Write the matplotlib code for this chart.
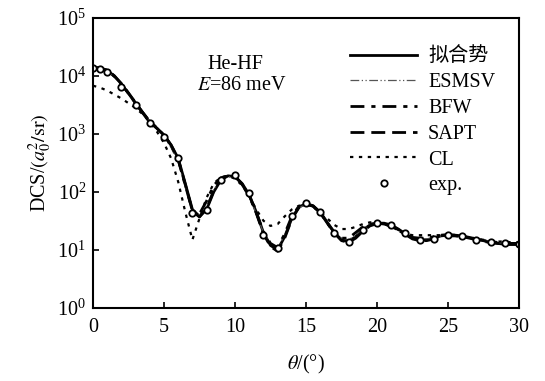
import matplotlib
matplotlib.use("Agg")
import matplotlib.pyplot as plt
import numpy as np

plt.rcParams['font.family'] = ['Liberation Serif', 'Noto Sans CJK SC', 'DejaVu Sans']
plt.rcParams['mathtext.fontset'] = 'stix'

# ---------------- data ----------------
theta = [0, 0.5, 1, 1.5, 2, 2.5, 3, 3.5, 4, 4.5, 5, 5.5, 6, 6.5, 7, 7.5, 8, 8.5, 9, 9.5,
         10, 10.5, 11, 11.5, 12, 12.5, 13, 13.5, 14, 14.5, 15, 15.5, 16, 16.5, 17, 17.5,
         18, 18.5, 19, 19.5, 20, 20.5, 21, 21.5, 22, 22.5, 23, 23.5, 24, 24.5, 25, 25.5,
         26, 26.5, 27, 27.5, 28, 28.5, 29, 29.5, 30]

fit = [14000, 13700, 12500, 10000, 7300, 5000, 3400, 2300, 1600, 1250, 950, 650, 380, 140,
       50, 38, 50, 100, 160, 190, 185, 140, 90, 45, 20, 12, 10, 17, 35, 55, 63, 58, 45, 30,
       20, 15, 14, 17, 22, 27, 29, 29, 27, 23, 19, 16, 15, 15, 16, 17.5, 18, 18, 17.5, 16.5,
       15.5, 14.5, 13.5, 13, 12.5, 12.5, 12.5]

esmsv = [13500, 13200, 12000, 9600, 7000, 4900, 3300, 2300, 1650, 1250, 900, 580, 320, 120,
         48, 40, 58, 110, 165, 185, 175, 135, 85, 42, 20, 13, 11, 18, 36, 54, 60, 56, 44, 30,
         21, 16, 15, 18, 23, 27, 28, 28, 26, 22, 18.5, 16, 15.5, 15.5, 16.5, 17.5, 18, 17.5, 17,
         16, 15, 14.5, 14, 13.5, 13, 13, 13]

bfw = [13800, 13400, 12300, 9900, 7200, 5000, 3400, 2350, 1650, 1280, 960, 640, 360, 130,
       48, 42, 70, 130, 175, 190, 180, 135, 85, 44, 21, 13, 11, 19, 38, 57, 62, 57, 44, 29,
       20, 16, 16, 20, 25, 28, 29, 28, 26, 22, 18.5, 16.5, 16, 16, 17, 18, 18.5, 18, 17.5, 16.5,
       15.5, 14.5, 14, 13.5, 13, 13, 13]

sapt = [14200, 13800, 12600, 10100, 7400, 5100, 3450, 2350, 1620, 1260, 950, 640, 370, 135,
        47, 37, 52, 105, 165, 192, 185, 138, 88, 43, 19, 11.5, 9.5, 16, 34, 54, 62, 57, 44,
        29, 19.5, 14.5, 13.5, 16, 21, 26, 28.5, 28.5, 26.5, 22.5, 18.5, 15.5, 14.5, 14.5,
        15.5, 17, 17.5, 17.5, 17, 16, 15, 14, 13.5, 13, 12.5, 12.5, 12.5]

cl = [6800, 6300, 5600, 4800, 4100, 3400, 2800, 2200, 1600, 1100, 700, 380, 150, 45, 15, 35,
      80, 140, 180, 190, 170, 130, 85, 50, 32, 26, 28, 38, 50, 58, 60, 55, 45, 35, 27, 23, 23,
      25, 28, 30, 30, 28, 25, 22, 19, 18, 18, 18, 18, 18, 18, 17.5, 17, 16, 15.5, 15, 14.5, 14,
      14, 13.5, 13.5]

exp_theta = [0, 0.5, 1, 2, 3, 4, 5, 6, 7, 8, 9, 10, 11, 12, 13, 14, 15, 16, 17, 18, 19, 20,
             21, 22, 23, 24, 25, 26, 27, 28, 29, 30]
exp_val = [14000, 13000, 11500, 6500, 3200, 1550, 900, 385, 44, 48, 160, 195, 96, 18, 11, 38,
           65, 45, 20, 14, 22, 29, 27, 20, 15, 15.5, 18, 17.5, 15, 13.5, 13, 12.5]

labels = ['拟合势', 'ESMSV', 'BFW', 'SAPT', 'CL', 'exp.']

FS = 14.5

# ---------------- figure ----------------
fig = plt.figure(figsize=(5.45, 3.81), dpi=100)
ax = fig.add_axes([93/545, 1-308/381, (519-93)/545, (308-18)/381])

ax.plot(theta, fit, color='black', lw=2.0, label=labels[0])
ax.plot(theta, esmsv, color='#555555', lw=0.9, dashes=(7, 2, 1, 2, 1, 2), label=labels[1])
ax.plot(theta, bfw, color='black', lw=2.0, dashes=(5, 2.5, 1.5, 2.5), label=labels[2])
ax.plot(theta, sapt, color='black', lw=2.0, dashes=(5, 2.5), label=labels[3])
ax.plot(theta, cl, color='black', lw=1.6, dashes=(1.5, 2.5), label=labels[4])
ax.plot(exp_theta, exp_val, linestyle='none', marker='o', ms=4.6, mfc='white', mec='black',
        mew=1.3, label=labels[5])

ax.set_yscale('log')
ax.set_xlim(0, 30)
ax.set_ylim(1, 1e5)
ax.set_xticks([0, 5, 10, 15, 20, 25, 30])
ax.set_yticks([1, 10, 100, 1000, 1e4, 1e5])
ax.minorticks_off()
ax.tick_params(direction='in', length=4, width=1.2, labelsize=FS, top=False, right=False)
ax.tick_params(axis='x', pad=7)
ax.tick_params(axis='y', pad=5)
for s in ax.spines.values():
    s.set_linewidth(1.5)

ax.set_xlabel(r'$\theta$/(°)', fontsize=FS, labelpad=12)
ax.set_ylabel(r'DCS/$(a_0^2/\mathrm{sr})$', fontsize=FS, labelpad=2)

ax.text(0.335, 0.84, 'He-HF', transform=ax.transAxes, ha='center', va='center', fontsize=FS)
ax.text(0.35, 0.768, r'$E$=86 meV', transform=ax.transAxes, ha='center', va='center', fontsize=FS)

leg = ax.legend(loc='upper right', bbox_to_anchor=(0.977, 0.947), frameon=False, fontsize=FS,
                handlelength=3.3, labelspacing=0.33, handletextpad=0.55, borderaxespad=0.3)

fig.savefig('out.png', dpi=100)
